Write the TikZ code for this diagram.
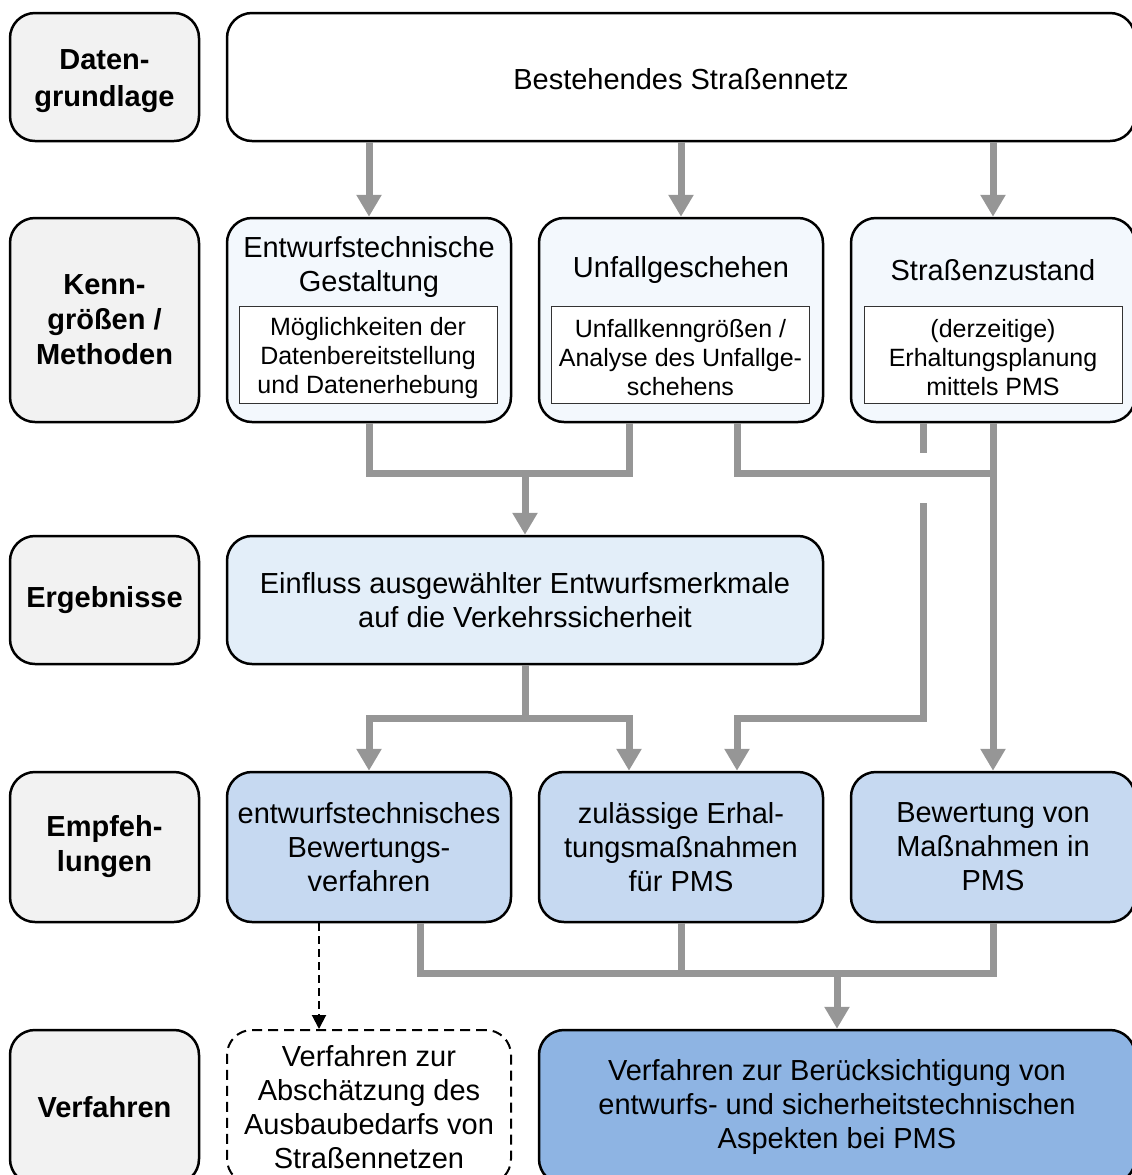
\documentclass[tikz,border=0pt]{standalone}
\usepackage{fontspec}
\setmainfont{Liberation Sans}
\usetikzlibrary{arrows.meta,calc}
\definecolor{lblgray}{HTML}{F2F2F2}
\definecolor{palebox}{HTML}{F3F8FD}
\definecolor{lightbox}{HTML}{E3EEF9}
\definecolor{midbox}{HTML}{C6D9F1}
\definecolor{darkbox}{HTML}{8EB4E3}
\definecolor{conn}{HTML}{969696}
\tikzset{
 box/.style={draw=black, line width=1.25pt, rounded corners=12.5pt, inner sep=0pt, align=center, font=\fontsize{14.5}{17}\selectfont},
 lbl/.style={box, fill=lblgray, minimum width=94.5pt, font=\fontsize{14.5}{17.5}\selectfont\bfseries},
 inbox/.style={draw=black!80, line width=0.5pt, fill=white, minimum width=129pt, minimum height=48.5pt, inner sep=0pt},
 intext/.style={align=center, inner sep=0pt, font=\fontsize{12.5}{14.5}\selectfont},
 titletext/.style={align=center, inner sep=0pt, font=\fontsize{14.5}{17}\selectfont},
 flow/.style={draw=conn, line width=3.5pt},
 flowarrow/.style={flow, -{Triangle[width=12pt,length=11pt]}},
 dasharrow/.style={draw=black, line width=1pt, dash pattern=on 4pt off 2.5pt, -{Triangle[width=7pt,length=7pt]}},
 dashbox/.style={box, fill=white, line width=1pt, dash pattern=on 5pt off 3pt},
}
\begin{document}
\begin{tikzpicture}[x=0.5pt,y=-0.5pt]
\useasboundingbox (0,0) rectangle (1132,1175);
\clip (0,0) rectangle (1132,1175);
% left labels
\node[lbl, minimum height=64pt] (L1) at (104.5,77) {};
\node[titletext, font=\fontsize{14.5}{18.5}\selectfont\bfseries] (L1t) at (104.5,81) {Daten-\\grundlage};
\node[lbl, minimum height=102pt] (L2) at (104.5,320) {Kenn-\\größen /\\Methoden};
\node[lbl, minimum height=64pt] (L3) at (104.5,600) {Ergebnisse};
\node[lbl, minimum height=75pt] (L4) at (104.5,847) {Empfeh-\\lungen};
\node[lbl, minimum height=77pt] (L5) at (104.5,1107) {Verfahren};
% top
\node[box, fill=white, minimum width=454pt, minimum height=64pt] (T) at (681,77) {};
\node[titletext] (Tt) at (681,79) {Bestehendes Straßennetz};
% row 2
\node[box, fill=palebox, minimum width=142pt, minimum height=102pt] (A) at (369,320) {};
\node[box, fill=palebox, minimum width=142pt, minimum height=102pt] (B) at (681,320) {};
\node[box, fill=palebox, minimum width=142pt, minimum height=102pt] (C) at (993,320) {};
\node[titletext] (At) at (369,267) {Entwurfstechnische\\Gestaltung};
\node[titletext] (Bt) at (681,270) {Unfallgeschehen};
\node[titletext] (Ct) at (993,270) {Straßenzustand};
\node[inbox] (Ai) at (368,354.5) {};
\node[inbox] (Bi) at (680.5,354.5) {};
\node[inbox] (Ci) at (993,354.5) {};
\node[intext] (Ait) at (368,358) {Möglichkeiten der\\Datenbereitstellung\\und Datenerhebung};
\node[intext] (Bit) at (680.5,358) {Unfallkenngrößen /\\Analyse des Unfallge-\\schehens};
\node[intext] (Cit) at (993,358) {(derzeitige)\\Erhaltungsplanung\\mittels PMS};
% row 3
\node[box, fill=lightbox, minimum width=298pt, minimum height=64pt] (R) at (525,600) {Einfluss ausgewählter Entwurfsmerkmale\\auf die Verkehrssicherheit};
% row 4
\node[box, fill=midbox, minimum width=142pt, minimum height=75pt] (E1) at (369,847) {entwurfstechnisches\\Bewertungs-\\verfahren};
\node[box, fill=midbox, minimum width=142pt, minimum height=75pt] (E2) at (681,847) {zulässige Erhal-\\tungsmaßnahmen\\für PMS};
\node[box, fill=midbox, minimum width=142pt, minimum height=75pt] (E3) at (993,847) {Bewertung von\\Maßnahmen in\\PMS};
% row 5
\node[dashbox, minimum width=142pt, minimum height=77pt] (D) at (369,1107) {Verfahren zur\\Abschätzung des\\Ausbaubedarfs von\\Straßennetzen};
\node[box, fill=darkbox, minimum width=298pt, minimum height=77pt] (V) at (837,1107) {Verfahren zur Berücksichtigung von\\entwurfs- und sicherheitstechnischen\\Aspekten bei PMS};
% connectors
\draw[flowarrow] (T.south -| A.north) -- (A.north);
\draw[flowarrow] (T.south -| B.north) -- (B.north);
\draw[flowarrow] (T.south -| C.north) -- (C.north);
\draw[flow] (A.south) -- ++(0,50) -| ([xshift=-26pt]B.south);
\draw[flowarrow] ([yshift=32pt]R.north) -- (R.north);
\draw[flow] ([xshift=28pt]B.south) -- ++(0,50) -| (C.south);
\draw[flowarrow] (C.south) -- (E3.north);
\draw[flow] ([xshift=-35pt]C.south) -- ++(0,30);
\draw[flowarrow] ([xshift=-35pt]C.south) ++(0,80) -- ++(0,215) -| ([xshift=28pt]E2.north);
\draw[flow] (R.south) -- ++(0,53);
\draw[flowarrow] (R.south) ++(0,53) -| (E1.north);
\draw[flowarrow] (R.south) ++(0,53) -| ([xshift=-26pt]E2.north);
\draw[flow] ([xshift=25.5pt]E1.south) -- ++(0,50) -| (E3.south);
\draw[flow] (E2.south) -- ++(0,50);
\draw[flowarrow] (V.north) ++(0,-58) -- (V.north);
\draw[dasharrow] ([xshift=-25pt]E1.south) -- ([xshift=-25pt]D.north);
\end{tikzpicture}
\end{document}
